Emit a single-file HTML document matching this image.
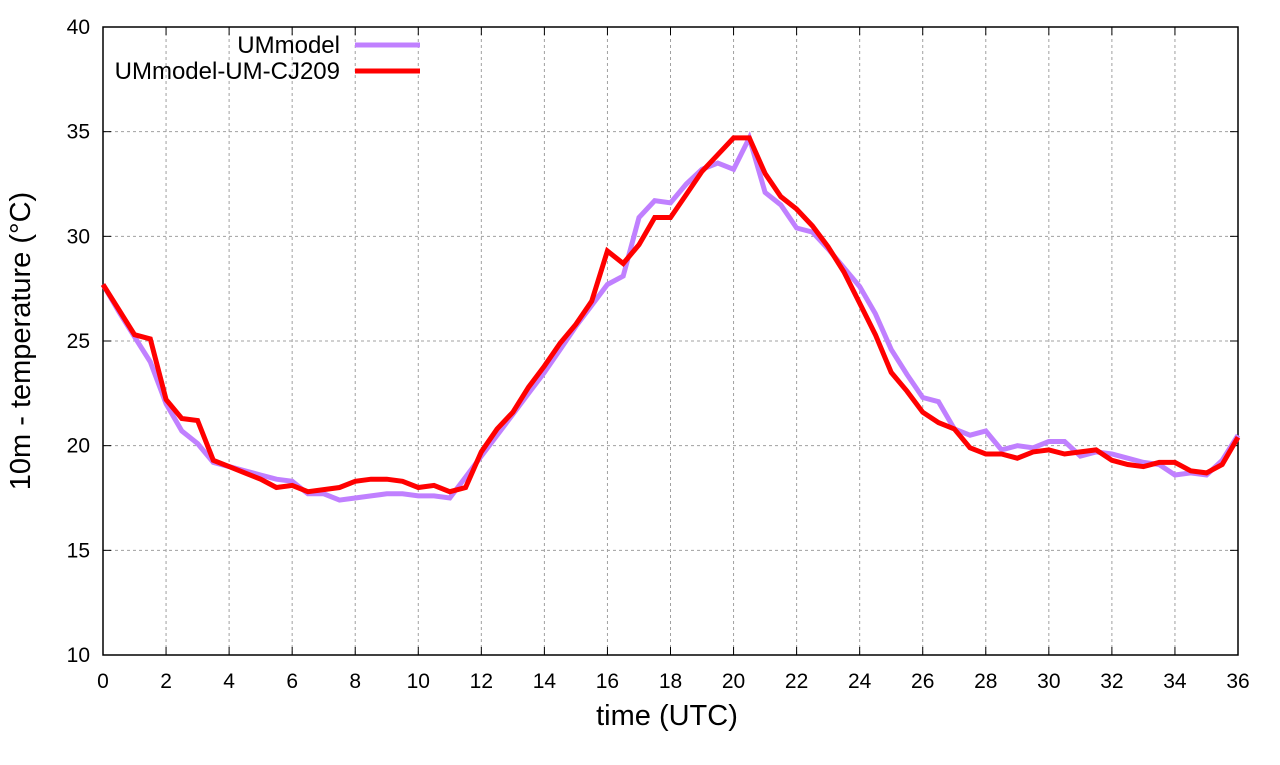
<!DOCTYPE html>
<html><head><meta charset="utf-8"><style>
body{margin:0;background:#fff;}
svg text{font-family:"Liberation Sans",sans-serif;fill:#000;}
</style></head><body>
<svg id="chart" width="1280" height="760" xmlns="http://www.w3.org/2000/svg">
<g id="grid"></g>
<g id="axes"></g>
<g id="series"></g>
<text x="667" y="725" font-size="29" text-anchor="middle">time (UTC)</text>
<text transform="translate(30,341) rotate(-90)" font-size="29" text-anchor="middle">10m - temperature (°C)</text>
<g>
<text x="340" y="53" font-size="24" text-anchor="end">UMmodel</text>
<line x1="355" y1="45" x2="420" y2="45" stroke="#c080ff" stroke-width="5"/>
<text x="340" y="79" font-size="24" text-anchor="end">UMmodel-UM-CJ209</text>
<line x1="355" y1="71" x2="420" y2="71" stroke="#ff0000" stroke-width="5"/>
</g>
</svg>
<script>
const xTicks=[0,2,4,6,8,10,12,14,16,18,20,22,24,26,28,30,32,34,36];
const yTicks=[10,15,20,25,30,35,40];
const umModel=[27.7,26.4,25.2,24.0,22.0,20.7,20.1,19.2,19.0,18.8,18.6,18.4,18.3,17.7,17.7,17.4,17.5,17.6,17.7,17.7,17.6,17.6,17.5,18.5,19.5,20.5,21.5,22.5,23.5,24.6,25.7,26.7,27.7,28.1,30.9,31.7,31.6,32.5,33.2,33.5,33.2,34.7,32.1,31.5,30.4,30.2,29.4,28.5,27.6,26.3,24.6,23.4,22.3,22.1,20.8,20.5,20.7,19.8,20.0,19.9,20.2,20.2,19.5,19.7,19.6,19.4,19.2,19.1,18.6,18.7,18.6,19.3,20.5];
const umCJ209=[27.7,26.5,25.3,25.1,22.2,21.3,21.2,19.3,19.0,18.7,18.4,18.0,18.1,17.8,17.9,18.0,18.3,18.4,18.4,18.3,18.0,18.1,17.8,18.0,19.7,20.8,21.6,22.8,23.8,24.9,25.8,26.9,29.3,28.7,29.6,30.9,30.9,32.0,33.1,33.9,34.7,34.7,33.0,31.9,31.3,30.5,29.5,28.3,26.8,25.3,23.5,22.6,21.6,21.1,20.8,19.9,19.6,19.6,19.4,19.7,19.8,19.6,19.7,19.8,19.3,19.1,19.0,19.2,19.2,18.8,18.7,19.1,20.4];
const X0=103,X1=1238,Y0=655,Y1=27;
const xs=t=>X0+(t/36)*(X1-X0);
const ys=v=>Y0-((v-10)/30)*(Y0-Y1);
const NS="http://www.w3.org/2000/svg";
function mk(tag,attrs,parent){const e=document.createElementNS(NS,tag);for(const k in attrs)e.setAttribute(k,attrs[k]);parent.appendChild(e);return e;}
const grid=document.getElementById('grid'),axes=document.getElementById('axes'),series=document.getElementById('series');
xTicks.forEach(t=>{
 const x=xs(t);
 if(t>0&&t<36){const g=mk('line',{x1:x,y1:Y1,x2:x,y2:Y0,stroke:'#a0a0a0','stroke-width':1,'stroke-dasharray':'3,3'},grid);
 
 }
 const tk=mk('line',{x1:x,y1:Y0,x2:x,y2:Y0-8,stroke:'#000','stroke-width':1},axes);
 
 
 const tk2=mk('line',{x1:x,y1:Y1,x2:x,y2:Y1+8,stroke:'#000','stroke-width':1},axes);
 
 
 const l=mk('text',{x:x,y:688,'font-size':21,'text-anchor':'middle'},axes);l.textContent=t;
 
 
});
yTicks.forEach(v=>{
 const y=ys(v);
 if(v>10&&v<40){const g=mk('line',{x1:X0,y1:y,x2:X1,y2:y,stroke:'#a0a0a0','stroke-width':1,'stroke-dasharray':'3,3'},grid);
 
 }
 const tk=mk('line',{x1:X0,y1:y,x2:X0+8,y2:y,stroke:'#000','stroke-width':1},axes);
 
 
 const tk2=mk('line',{x1:X1,y1:y,x2:X1-8,y2:y,stroke:'#000','stroke-width':1},axes);
 
 
 const l=mk('text',{x:X0-13,y:y+7,'font-size':21,'text-anchor':'end'},axes);l.textContent=v;
 
 
});
const frame=mk('rect',{x:X0,y:Y1,width:X1-X0,height:Y0-Y1,fill:'none',stroke:'#000','stroke-width':1.5},axes);


function pts(arr){return arr.map((v,i)=>xs(i*0.5).toFixed(1)+','+ys(v).toFixed(1)).join(' ');}
const p1=mk('polyline',{points:pts(umModel),fill:'none',stroke:'#c080ff','stroke-width':5,'stroke-linejoin':'miter'},series);


const p2=mk('polyline',{points:pts(umCJ209),fill:'none',stroke:'#ff0000','stroke-width':5,'stroke-linejoin':'miter'},series);


</script>
</body></html>
